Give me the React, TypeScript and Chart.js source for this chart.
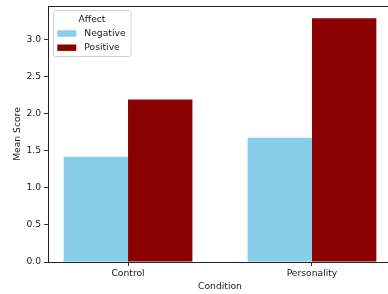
import React, { useEffect, useRef } from "react";
import { Chart, registerables } from "chart.js";

Chart.register(...registerables);

const categories = ["Control", "Personality"];
const negative = [1.42, 1.675];
const positive = [2.19, 3.285];
const yTicks = [0, 0.5, 1.0, 1.5, 2.0, 2.5, 3.0];
const legendTitle = "Affect";
const seriesNames = ["Negative", "Positive"];
const colors = ["#87CEEB", "#8B0000"];

const FONT = "'DejaVu Sans', sans-serif";
const FS = 9.2;

const framePlugin = {
  id: "frameAndLegend",
  afterDraw(chart: any) {
    const { ctx, chartArea } = chart;
    ctx.save();
    ctx.strokeStyle = "#222";
    ctx.lineWidth = 1;
    ctx.beginPath();
    ctx.moveTo(chartArea.left, chartArea.top + 0.5);
    ctx.lineTo(chartArea.right, chartArea.top + 0.5);
    ctx.stroke();

    // legend box
    const bx = 53.5, by = 10.5, bw = 77.5, bh = 46;
    ctx.fillStyle = "rgba(255,255,255,0.8)";
    ctx.strokeStyle = "#d0d0d0";
    ctx.beginPath();
    const r = 2;
    ctx.moveTo(bx + r, by);
    ctx.lineTo(bx + bw - r, by);
    ctx.quadraticCurveTo(bx + bw, by, bx + bw, by + r);
    ctx.lineTo(bx + bw, by + bh - r);
    ctx.quadraticCurveTo(bx + bw, by + bh, bx + bw - r, by + bh);
    ctx.lineTo(bx + r, by + bh);
    ctx.quadraticCurveTo(bx, by + bh, bx, by + bh - r);
    ctx.lineTo(bx, by + r);
    ctx.quadraticCurveTo(bx, by, bx + r, by);
    ctx.closePath();
    ctx.fill();
    ctx.stroke();

    ctx.font = FS + "px " + FONT;
    ctx.fillStyle = "#1a1a1a";
    ctx.textBaseline = "middle";
    ctx.textAlign = "center";
    ctx.fillText(legendTitle, 92, 19.5);
    ctx.textAlign = "left";
    const rows = [33.5, 47.7];
    seriesNames.forEach((name, i) => {
      ctx.fillStyle = colors[i];
      ctx.fillRect(57.3, rows[i] - 3.2, 19, 6.4);
      ctx.fillStyle = "#1a1a1a";
      ctx.fillText(name, 84.3, rows[i]);
    });
    ctx.restore();
  },
};

export default function App() {
  const ref = useRef<HTMLCanvasElement>(null);
  useEffect(() => {
    if (!ref.current) return;
    const chart = new Chart(ref.current, {
      type: "bar",
      data: {
        datasets: [
          {
            label: seriesNames[0],
            data: categories.map((_, i) => ({ x: i, y: negative[i] })),
            backgroundColor: colors[0],
            borderWidth: 0,
          },
          {
            label: seriesNames[1],
            data: categories.map((_, i) => ({ x: i, y: positive[i] })),
            backgroundColor: colors[1],
            borderWidth: 0,
          },
        ],
      },
      options: {
        responsive: false,
        animation: false,
        devicePixelRatio: 1,
        layout: { padding: { left: 0, top: 6, right: 8, bottom: 0 } },
        datasets: { bar: { categoryPercentage: 0.7, barPercentage: 1.0, grouped: true } },
        plugins: { legend: { display: false }, tooltip: { enabled: false } },
        scales: {
          x: {
            type: "linear",
            min: -0.435,
            max: 1.435,
            offset: false,
            afterBuildTicks: (s: any) => {
              s.ticks = categories.map((_, i) => ({ value: i }));
            },
            afterFit: (s: any) => {
              s.height = 32;
              s.paddingLeft = 0;
              s.paddingRight = 0;
            },
            ticks: {
              callback: (v: any) => categories[v as number] ?? "",
              font: { family: FONT, size: FS },
              color: "#1a1a1a",
              padding: 2,
              maxRotation: 0,
              autoSkip: false,
            },
            grid: { offset: false, drawOnChartArea: false, drawTicks: true, tickLength: 4, color: "#333" },
            border: { display: true, color: "#222", width: 1 },
            title: {
              display: true,
              text: "Condition",
              font: { family: FONT, size: FS },
              color: "#1a1a1a",
              padding: { top: 0, bottom: 2 },
            },
          },
          y: {
            type: "linear",
            min: 0,
            max: 3.45,
            afterBuildTicks: (s: any) => {
              s.ticks = yTicks.map((v) => ({ value: v }));
            },
            afterFit: (s: any) => {
              s.width = 48;
              s.paddingTop = 0;
              s.paddingBottom = 0;
            },
            ticks: {
              callback: (v: any) => Number(v).toFixed(1),
              font: { family: FONT, size: FS },
              color: "#1a1a1a",
              padding: 3,
            },
            grid: { drawOnChartArea: false, drawTicks: true, tickLength: 4, color: "#333" },
            border: { display: true, color: "#222", width: 1 },
            title: {
              display: true,
              text: "Mean Score",
              font: { family: FONT, size: FS },
              color: "#1a1a1a",
              padding: { top: 12, bottom: 0 },
            },
          },
        },
      },
      plugins: [framePlugin],
    } as any);
    return () => chart.destroy();
  }, []);
  return (
    <div style={{ position: "absolute", left: 0, top: 0, width: 388, height: 294, overflow: "hidden", background: "#fff" }}>
      <canvas ref={ref} width={400} height={294} style={{ display: "block" }} />
    </div>
  );
}
